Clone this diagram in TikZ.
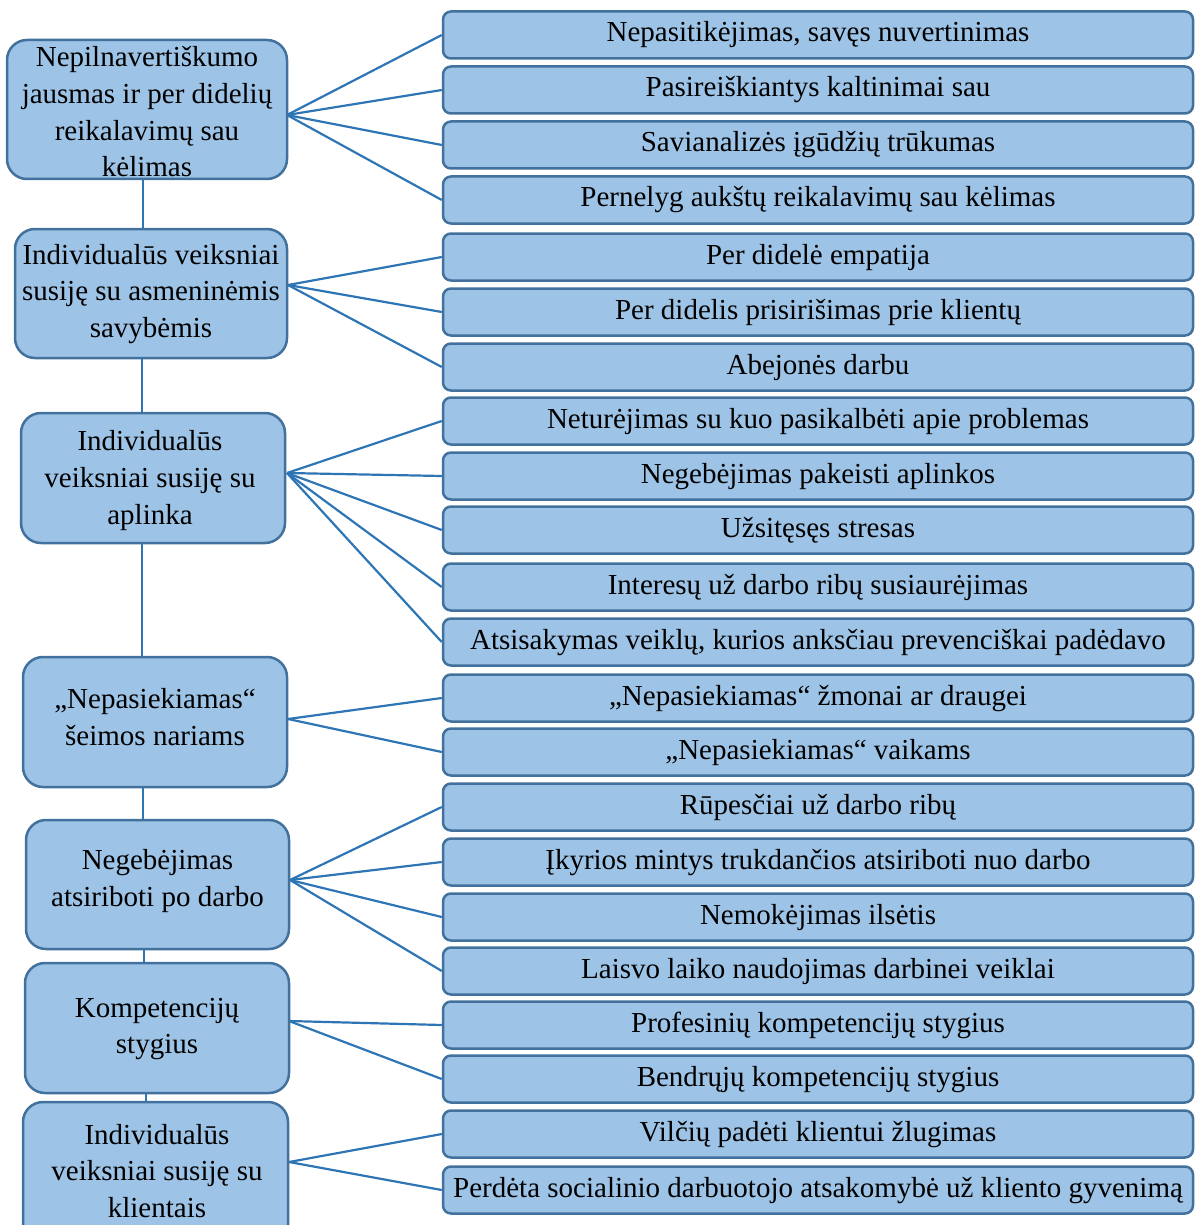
\documentclass[tikz,border=0pt]{standalone}
\usepackage{fontspec}
\setmainfont{Liberation Serif}
\definecolor{boxfill}{HTML}{9DC3E6}
\definecolor{boxline}{HTML}{41719C}
\definecolor{linkline}{HTML}{2E75B6}

\begin{document}
\begin{tikzpicture}[x=1pt,y=-1pt,
  causebox/.style={draw=boxline, line width=2.5pt, fill=boxfill, rounded corners=20pt, inner sep=0pt},
  causetext/.style={align=center, inner sep=0pt, font=\fontsize{29}{36.7}\selectfont},
  itembox/.style={draw=boxline, line width=2.5pt, fill=boxfill, rounded corners=8pt,
    minimum width=750pt, minimum height=47pt, inner sep=0pt, text height=20pt, text depth=6pt,
    font=\fontsize{29}{34}\selectfont},
  link/.style={draw=linkline, line width=2.2pt}]
\useasboundingbox (0,0) rectangle (1200,1225);

% connection points on the right side of the cause boxes
\coordinate (s1) at (287,115);
\coordinate (s2) at (288,285);
\coordinate (s3) at (287,473);
\coordinate (s4) at (288,719);
\coordinate (s5) at (290,880);
\coordinate (s6) at (289,1021);
\coordinate (s7) at (289,1162);

% x positions of the vertical spine segments
\coordinate (v12) at (143,0);
\coordinate (v23) at (142,0);
\coordinate (v34) at (142,0);
\coordinate (v45) at (143,0);
\coordinate (v56) at (144,0);
\coordinate (v67) at (146,0);

% right column: individual items
\node[itembox] (r1)  at (818,35)   {Nepasitikėjimas, savęs nuvertinimas};
\node[itembox] (r2)  at (818,90)   {Pasireiškiantys kaltinimai sau};
\node[itembox] (r3)  at (818,145)  {Savianalizės įgūdžių trūkumas};
\node[itembox] (r4)  at (818,200)  {Pernelyg aukštų reikalavimų sau kėlimas};
\node[itembox] (r5)  at (818,257)  {Per didelė empatija};
\node[itembox] (r6)  at (818,312)  {Per didelis prisirišimas prie klientų};
\node[itembox] (r7)  at (818,367)  {Abejonės darbu};
\node[itembox] (r8)  at (818,421)  {Neturėjimas su kuo pasikalbėti apie problemas};
\node[itembox] (r9)  at (818,476)  {Negebėjimas pakeisti aplinkos};
\node[itembox] (r10) at (818,530)  {Užsitęsęs stresas};
\node[itembox] (r11) at (818,587)  {Interesų už darbo ribų susiaurėjimas};
\node[itembox] (r12) at (818,642)  {Atsisakymas veiklų, kurios anksčiau prevenciškai padėdavo};
\node[itembox] (r13) at (818,698)  {„Nepasiekiamas“ žmonai ar draugei};
\node[itembox] (r14) at (818,752)  {„Nepasiekiamas“ vaikams};
\node[itembox] (r15) at (818,807)  {Rūpesčiai už darbo ribų};
\node[itembox] (r16) at (818,862)  {Įkyrios mintys trukdančios atsiriboti nuo darbo};
\node[itembox] (r17) at (818,917)  {Nemokėjimas ilsėtis};
\node[itembox] (r18) at (818,971)  {Laisvo laiko naudojimas darbinei veiklai};
\node[itembox] (r19) at (818,1025) {Profesinių kompetencijų stygius};
\node[itembox] (r20) at (818,1079) {Bendrųjų kompetencijų stygius};
\node[itembox] (r21) at (818,1134) {Vilčių padėti klientui žlugimas};
\node[itembox] (r22) at (818,1190) {Perdėta socialinio darbuotojo atsakomybė už kliento gyvenimą};

% fan-out connectors
\foreach \i in {1,...,4}   {\draw[link] (s1) -- (r\i.west);}
\foreach \i in {5,6,7}     {\draw[link] (s2) -- (r\i.west);}
\foreach \i in {8,...,12}  {\draw[link] (s3) -- (r\i.west);}
\foreach \i in {13,14}     {\draw[link] (s4) -- (r\i.west);}
\foreach \i in {15,...,18} {\draw[link] (s5) -- (r\i.west);}
\foreach \i in {19,20}     {\draw[link] (s6) -- (r\i.west);}
\foreach \i in {21,22}     {\draw[link] (s7) -- (r\i.west);}

% left column: cause boxes
\node[causebox, minimum width=280pt, minimum height=139pt] (L1) at (147,109.5) {};
\node[causebox, minimum width=272pt, minimum height=129pt] (L2) at (151,293.5) {};
\node[causebox, minimum width=264pt, minimum height=130pt] (L3) at (153,478) {};
\node[causebox, minimum width=264pt, minimum height=130pt] (L4) at (155,722) {};
\node[causebox, minimum width=263pt, minimum height=129pt] (L5) at (157.5,884.5) {};
\node[causebox, minimum width=264pt, minimum height=130pt] (L6) at (157,1028) {};
\node[causebox, minimum width=265pt, minimum height=146pt] (L7) at (155.5,1175) {};

% spine between cause boxes
\draw[link] (L1.south -| v12) -- (L2.north -| v12);
\draw[link] (L2.south -| v23) -- (L3.north -| v23);
\draw[link] (L3.south -| v34) -- (L4.north -| v34);
\draw[link] (L4.south -| v45) -- (L5.north -| v45);
\draw[link] (L5.south -| v56) -- (L6.north -| v56);
\draw[link] (L6.south -| v67) -- (L7.north -| v67);

% cause labels
\node[causetext] (L1t) at (147,112)  {Nepilnavertiškumo\\jausmas ir per didelių\\reikalavimų sau\\kėlimas};
\node[causetext] (L2t) at (151,294)  {Individualūs veiksniai\\susiję su asmeninėmis\\savybėmis};
\node[causetext] (L3t) at (150,480.5){Individualūs\\veiksniai susiję su\\aplinka};
\node[causetext] (L4t) at (155,717)  {„Nepasiekiamas“\\šeimos nariams};
\node[causetext] (L5t) at (157.5,881){Negebėjimas\\atsiriboti po darbo};
\node[causetext] (L6t) at (157,1029) {Kompetencijų\\stygius};
\node[causetext] (L7t) at (157,1171) {Individualūs\\veiksniai susiję su\\klientais};
\end{tikzpicture}
\end{document}
